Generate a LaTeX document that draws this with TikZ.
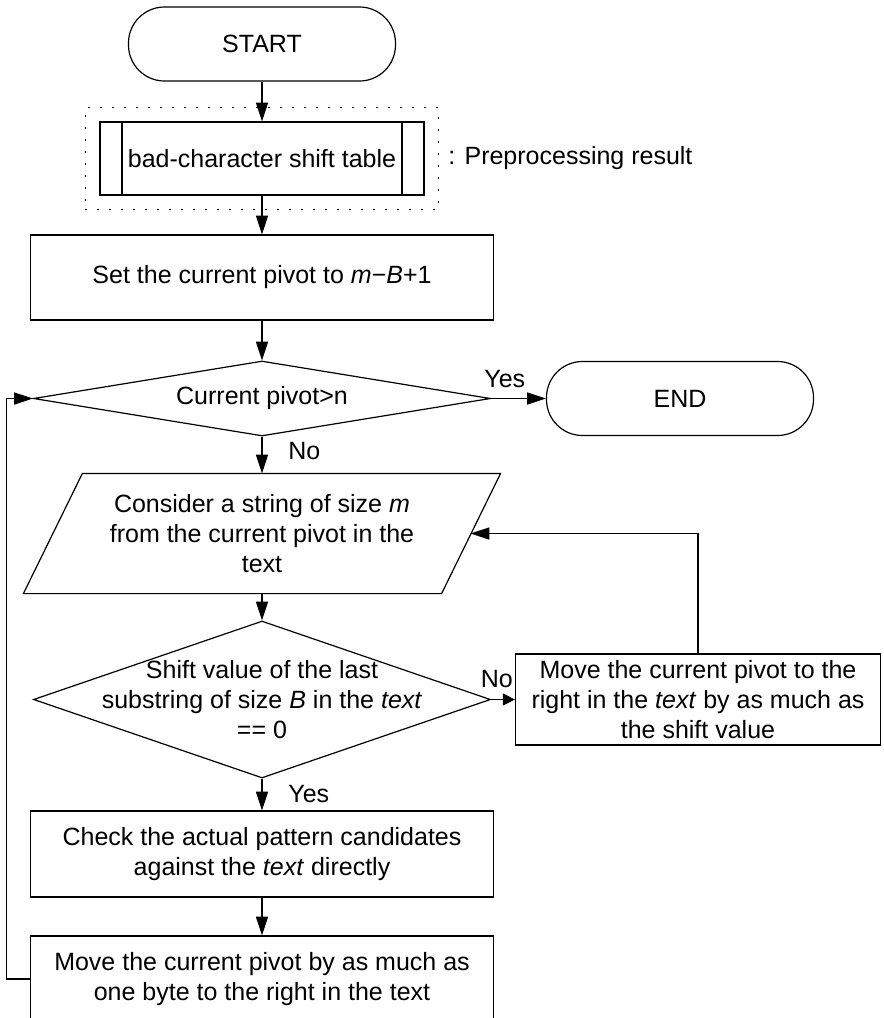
\documentclass[tikz,border=0pt]{standalone}
\usepackage{fontspec}
\setmainfont{Liberation Sans}
\usetikzlibrary{shapes.geometric, arrows.meta, positioning, fit}

\begin{document}
\begin{tikzpicture}[
    line width=0.9pt,
    node distance=30pt,
    every node/.style={
            font=\fontsize{18.75pt}{22.5pt}\selectfont,
            align=center
        },
    arrow/.style={-{Triangle[length=14pt, width=9pt]}},
    short_arrow/.style={-{Triangle[length=9pt, width=9pt]}},
    terminal_block/.style={
            rectangle,
            draw,
            rounded corners=27pt,
            minimum width=200.25pt,
            minimum height=55.5pt
        },
    process_block/.style={
            rectangle,
            draw,
            minimum width=347.25pt,
            minimum height=64.5pt
        },
    table_block/.style={
            rectangle,
            draw,
            minimum width=243pt,
            minimum height=54.75pt
        },
    decision_block/.style={
            diamond,
            draw,
            aspect=2.9,
            inner xsep=-60pt,
            inner ysep=0pt,
            minimum width=342.75pt
        },
    io_block/.style={
            rectangle,
            minimum width=357pt,
            minimum height=89.25pt
        },
    preproc_border/.style={
            draw,
            line width=1.1pt,
            dash pattern=on 1.3pt off 7.7pt,
            inner sep=10.5pt
        }
    ]

    \useasboundingbox (-196.5pt,33pt) rectangle (465.75pt,-730.5pt);

    % --- Start ---
    \node (start) [terminal_block] {START};

    % --- Preprocessing ---
    \node (shift_table) [table_block, below=29.85pt of start] {bad-character shift table};
    \draw ([xshift=17pt]shift_table.north west) -- ([xshift=17pt]shift_table.south west);
    \draw ([xshift=-17pt]shift_table.north east) -- ([xshift=-17pt]shift_table.south east);
    \node (table_border) [preproc_border, fit=(shift_table)] {};
    \node (preproc_label) [right=3pt of table_border] {: Preprocessing result};

    % --- Main loop ---
    \node (set_pivot) [process_block, below=29.1pt of shift_table, minimum height=63.75pt] {Set the current pivot to \textit{m}−\textit{B}+1};
    \node (pivot_check) [decision_block, below=29.85pt of set_pivot, minimum height=56.25pt] {Current pivot>n};
    \node (stop) [terminal_block, right=41.1pt of pivot_check] {END};
    \node (consider) [io_block, below=27.6pt of pivot_check] {Consider a string of size \textit{m}\\from the current pivot in the\\text};
    \draw ([xshift=44.25pt]consider.north west) -- (consider.north east)
    -- ([xshift=-44.25pt]consider.south east) -- (consider.south west) -- cycle;
    \node (shift_check) [decision_block, below=20.1pt of consider, minimum height=117.75pt] {Shift value of the last\\substring of size \textit{B} in the \textit{text}\\== 0};
    \node (move_shift) [process_block, right=17.85pt of shift_check, minimum width=273.75pt, minimum height=68.25pt] {Move the current pivot to the\\right in the \textit{text} by as much as\\the shift value};
    \node (compare) [process_block, below=23.85pt of shift_check] {Check the actual pattern candidates\\against the \textit{text} directly};
    \node (move_one) [process_block, below=28.35pt of compare] {Move the current pivot by as much as\\one byte to the right in the text};

    % --- Arrows ---
    \draw[arrow] (start) -- (shift_table);
    \draw[arrow] (shift_table) -- (set_pivot);
    \draw[arrow] (set_pivot) -- (pivot_check);
    \draw[arrow] (pivot_check) -- node[above=4pt, pos=0.25] (yes_end) {Yes} (stop);
    \draw[arrow] (pivot_check) -- node[right=16pt, pos=0.4] (no_loop) {No} (consider);
    \draw[arrow] (consider) -- (shift_check);
    \draw[short_arrow] (shift_check) -- node[above=5pt, pos=0.24] (no_shift) {No} (move_shift);
    \draw[arrow] (shift_check) -- node[right=16pt, pos=0.5] (yes_check) {Yes} (compare);
    \draw[arrow] (compare) -- (move_one);
    \draw[arrow] (move_shift.north) |- ([xshift=-22.5pt]consider.east);
    \draw[arrow] (move_one.west) -- ++(-17.25pt,0) |- (pivot_check.west);

\end{tikzpicture}
\end{document}
